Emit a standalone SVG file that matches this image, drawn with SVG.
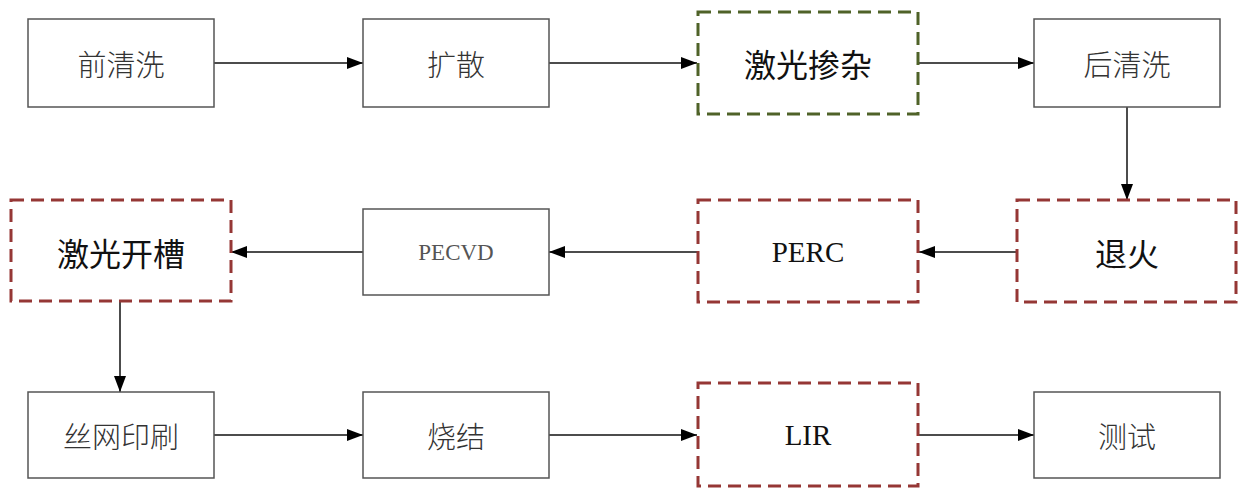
<svg xmlns="http://www.w3.org/2000/svg" width="1240" height="489" viewBox="0 0 1240 489">
<style>
.plain{fill:#fff;stroke:#555;stroke-width:1.5}
.green{fill:#fff;stroke:#4f6228;stroke-width:3;stroke-dasharray:13 7}
.red{fill:#fff;stroke:#953735;stroke-width:3;stroke-dasharray:13 7}
.cn{font-family:"Noto Sans CJK SC","Noto Sans",sans-serif;font-size:29px;fill:#333;text-anchor:middle;dominant-baseline:central;font-weight:300}
.cnb{font-family:"Noto Sans CJK SC","Noto Sans",sans-serif;font-size:32px;fill:#111;text-anchor:middle;dominant-baseline:central;font-weight:400}
.lat{font-family:"Liberation Serif",serif;font-size:29px;fill:#111;text-anchor:middle;dominant-baseline:central}
.latg{font-family:"Liberation Serif",serif;font-size:23px;fill:#555;text-anchor:middle;dominant-baseline:central}
.conn{stroke:#111;stroke-width:1.5;fill:none;marker-end:url(#ah)}
</style>
<defs>
<marker id="ah" viewBox="0 0 16 12" refX="16" refY="6" markerWidth="16" markerHeight="12" markerUnits="userSpaceOnUse" orient="auto">
<path d="M0,0 L16,6 L0,12 z" fill="#000"/>
</marker>
</defs>
<rect width="1240" height="489" fill="#fff"/>
<g id="connectors">
<line class="conn" x1="214" y1="63" x2="363" y2="63"/>
<line class="conn" x1="549" y1="63" x2="697" y2="63"/>
<line class="conn" x1="919" y1="63" x2="1034" y2="63"/>
<line class="conn" x1="1127" y1="107" x2="1127" y2="200"/>
<line class="conn" x1="1017" y1="252" x2="919" y2="252"/>
<line class="conn" x1="697" y1="252" x2="549" y2="252"/>
<line class="conn" x1="363" y1="252" x2="231" y2="252"/>
<line class="conn" x1="120" y1="301" x2="120" y2="392"/>
<line class="conn" x1="214" y1="435" x2="363" y2="435"/>
<line class="conn" x1="549" y1="435" x2="697" y2="435"/>
<line class="conn" x1="919" y1="435" x2="1034" y2="435"/>
</g>
<g id="n1"><rect class="plain" x="28" y="19" width="186" height="88"/><text class="cn" x="121" y="63">前清洗</text></g>
<g id="n2"><rect class="plain" x="363" y="19" width="186" height="88"/><text class="cn" x="456" y="63">扩散</text></g>
<g id="n3"><rect class="green" x="698" y="12" width="220" height="102"/><text class="cnb" x="808" y="63">激光掺杂</text></g>
<g id="n4"><rect class="plain" x="1034" y="19" width="186" height="88"/><text class="cn" x="1127" y="63">后清洗</text></g>
<g id="n5"><rect class="red" x="1017" y="200" width="219" height="102"/><text class="cnb" x="1127" y="252">退火</text></g>
<g id="n6"><rect class="red" x="698" y="200" width="220" height="102"/><text class="lat" x="808" y="252">PERC</text></g>
<g id="n7"><rect class="plain" x="363" y="209" width="186" height="86"/><text class="latg" x="456" y="252">PECVD</text></g>
<g id="n8"><rect class="red" x="11" y="200" width="220" height="101"/><text class="cnb" x="121" y="252">激光开槽</text></g>
<g id="n9"><rect class="plain" x="28" y="392" width="186" height="86"/><text class="cn" x="121" y="435">丝网印刷</text></g>
<g id="n10"><rect class="plain" x="363" y="392" width="186" height="86"/><text class="cn" x="456" y="435">烧结</text></g>
<g id="n11"><rect class="red" x="698" y="383" width="220" height="103"/><text class="lat" x="808" y="435">LIR</text></g>
<g id="n12"><rect class="plain" x="1034" y="392" width="186" height="86"/><text class="cn" x="1127" y="435">测试</text></g>
</svg>
